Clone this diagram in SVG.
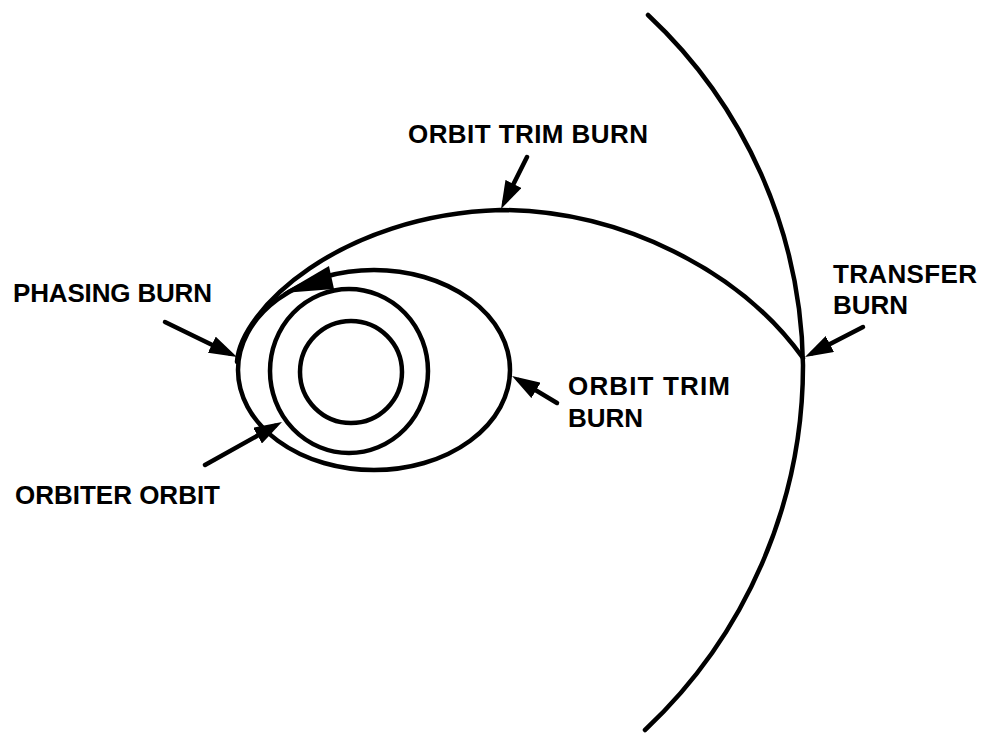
<svg xmlns="http://www.w3.org/2000/svg" width="983" height="737" viewBox="0 0 983 737">
<style>
.orb{fill:none;stroke:#000;stroke-width:4.5;stroke-linecap:round}
.arr{fill:none;stroke:#000;stroke-width:4.5;stroke-linecap:round}
.lbl{font-family:"Liberation Sans",Arial,sans-serif;font-weight:bold;font-size:26px;fill:#000}
</style>
<defs>
<marker id="ah" viewBox="0 0 28 18" refX="20" refY="9" markerWidth="28" markerHeight="18" markerUnits="userSpaceOnUse" orient="auto">
<path d="M0,0 L28,9 L0,18 z" fill="#000"/>
</marker>
</defs>
<rect width="983" height="737" fill="#fff"/>
<g id="orbits">
<circle id="earth" class="orb" cx="351" cy="372" r="51"/>
<ellipse id="orbiter-orbit" class="orb" cx="349" cy="371" rx="79" ry="82"/>
<ellipse id="phasing-orbit" class="orb" cx="374" cy="370" rx="136" ry="100"/>
<path id="transfer-orbit" class="orb" d="M237,362 C240,310 340,215 500,210 C620,210 740,270 803,358"/>
<path id="target-orbit" class="orb" d="M648,15 A489,489 0 0 1 803,365 A500,500 0 0 1 645,730"/>
<polygon id="phasing-direction" points="283,293 329,266 334,289" fill="#000"/>
</g>
<g id="connectors">
<path class="arr" d="M527,157 L504.6,201.8" marker-end="url(#ah)"/>
<path class="arr" d="M165,322 L229.8,353.5" marker-end="url(#ah)"/>
<path class="arr" d="M557,403 L518.9,380.1" marker-end="url(#ah)"/>
<path class="arr" d="M863,327 L812.1,353.3" marker-end="url(#ah)"/>
<path class="arr" d="M205,465 L275,425.9" marker-end="url(#ah)"/>
</g>
<g id="labels">
<text class="lbl" x="408" y="143" font-size="27" textLength="240">ORBIT TRIM BURN</text>
<text class="lbl" x="13" y="302" textLength="199">PHASING BURN</text>
<text class="lbl" x="833" y="283" textLength="144">TRANSFER</text>
<text class="lbl" x="833" y="314">BURN</text>
<text class="lbl" x="568" y="395" textLength="162">ORBIT TRIM</text>
<text class="lbl" x="568" y="427">BURN</text>
<text class="lbl" x="15" y="504" textLength="205">ORBITER ORBIT</text>
</g>
</svg>
